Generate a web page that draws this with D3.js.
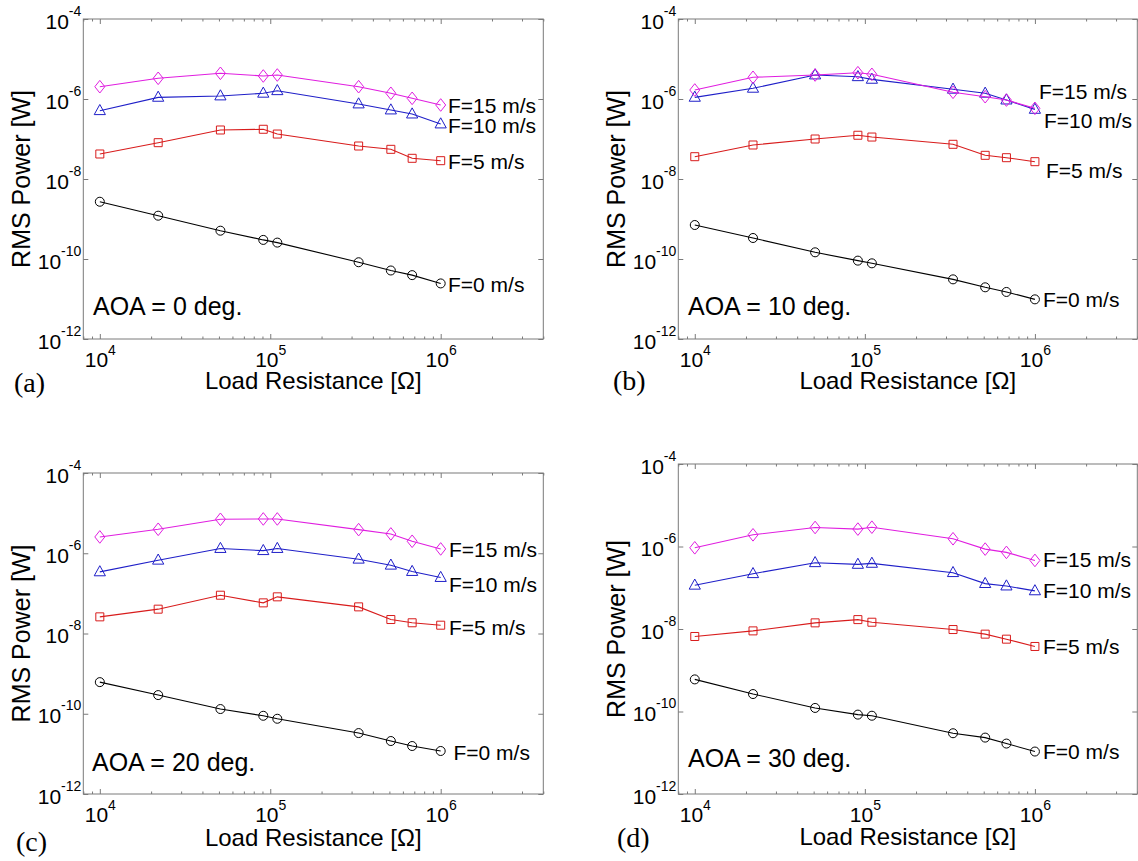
<!DOCTYPE html>
<html><head><meta charset="utf-8">
<script src="https://cdn.jsdelivr.net/npm/d3@7"></script>
<style>
body{margin:0;background:#fff;}
svg text{font-family:"Liberation Sans",Arial,sans-serif;fill:#000;}
</style></head><body>
<svg id="chart" width="1138" height="861"></svg>
<script>
// ---------- data ----------
const resistance = [1e4, 2.2e4, 5.1e4, 9.1e4, 1.1e5, 3.3e5, 5.1e5, 6.8e5, 1e6];
const xTickValues = [1e4, 1e5, 1e6];
const xTickExponents = ["4", "5", "6"];
const yTickValues = [1e-12, 1e-10, 1e-8, 1e-6, 1e-4];
const yTickExponents = ["-12", "-10", "-8", "-6", "-4"];
const seriesNames = ["F=0 m/s", "F=5 m/s", "F=10 m/s", "F=15 m/s"];
const panelTags = ["(a)", "(b)", "(c)", "(d)"];
const aoaTitles = ["AOA = 0 deg.", "AOA = 10 deg.", "AOA = 20 deg.", "AOA = 30 deg."];
const xAxisTitle = "Load Resistance [\u03A9]";
const yAxisTitle = "RMS Power [W]";

// AOA = 0 deg.
const aoa0_F0  = [2.7e-9, 1.21e-9, 5.1e-10, 3.0e-10, 2.57e-10, 8.3e-11, 5.16e-11, 3.95e-11, 2.45e-11];
const aoa0_F5  = [4.22e-8, 8.09e-8, 1.68e-7, 1.75e-7, 1.33e-7, 6.68e-8, 5.52e-8, 3.29e-8, 2.87e-8];
const aoa0_F10 = [5.1e-7, 1.1e-6, 1.19e-6, 1.39e-6, 1.61e-6, 7.5e-7, 5.3e-7, 4.2e-7, 2.37e-7];
const aoa0_F15 = [2.03e-6, 3.29e-6, 4.39e-6, 3.76e-6, 3.98e-6, 2.03e-6, 1.39e-6, 1.04e-6, 7.08e-7];
// AOA = 10 deg.
const aoa10_F0  = [7.08e-10, 3.35e-10, 1.47e-10, 9.1e-11, 7.8e-11, 3.1e-11, 1.96e-11, 1.5e-11, 9.8e-12];
const aoa10_F5  = [3.61e-8, 7.08e-8, 1.0e-7, 1.24e-7, 1.12e-7, 7.37e-8, 3.91e-8, 3.41e-8, 2.71e-8];
const aoa10_F10 = [1.1e-6, 1.85e-6, 3.98e-6, 3.6e-6, 3.1e-6, 1.75e-6, 1.39e-6, 9.4e-7, 5.5e-7];
const aoa10_F15 = [1.68e-6, 3.49e-6, 3.98e-6, 4.54e-6, 4.14e-6, 1.47e-6, 1.14e-6, 9.4e-7, 5.85e-7];
// AOA = 20 deg.
const aoa20_F0  = [6.14e-10, 2.92e-10, 1.31e-10, 8.9e-11, 7.5e-11, 3.3e-11, 2.09e-11, 1.57e-11, 1.18e-11];
const aoa20_F5  = [2.6e-8, 4.04e-8, 9.0e-8, 5.8e-8, 8.2e-8, 4.61e-8, 2.23e-8, 1.85e-8, 1.61e-8];
const aoa20_F10 = [3.43e-7, 6.7e-7, 1.31e-6, 1.16e-6, 1.31e-6, 7.1e-7, 5.03e-7, 3.5e-7, 2.48e-7];
const aoa20_F15 = [2.55e-6, 3.96e-6, 7.02e-6, 7.16e-6, 7.16e-6, 3.88e-6, 3.03e-6, 1.99e-6, 1.28e-6];
// AOA = 30 deg.
const aoa30_F0  = [6.0e-10, 2.65e-10, 1.22e-10, 8.4e-11, 7.9e-11, 2.97e-11, 2.33e-11, 1.67e-11, 1.07e-11];
const aoa30_F5  = [6.58e-9, 9.0e-9, 1.41e-8, 1.69e-8, 1.46e-8, 9.7e-9, 7.5e-9, 5.67e-9, 3.77e-9];
const aoa30_F10 = [1.15e-7, 2.19e-7, 4.04e-7, 3.68e-7, 3.9e-7, 2.32e-7, 1.26e-7, 1.1e-7, 8.4e-8];
const aoa30_F15 = [9.3e-7, 1.92e-6, 2.89e-6, 2.64e-6, 2.94e-6, 1.54e-6, 8.65e-7, 7.2e-7, 4.6e-7];

const panelSeries = [
  [aoa0_F0, aoa0_F5, aoa0_F10, aoa0_F15],
  [aoa10_F0, aoa10_F5, aoa10_F10, aoa10_F15],
  [aoa20_F0, aoa20_F5, aoa20_F10, aoa20_F15],
  [aoa30_F0, aoa30_F5, aoa30_F10, aoa30_F15]
];

// ---------- layout / style ----------
const seriesColors = ["#000000", "#d81c1c", "#1f1fc8", "#e01ee0"];
const seriesMarkers = ["circle", "square", "triangle", "diamond"];

const panels = [
  {left: 83.3, top: 19, width: 460, height: 320,
   labelPos: [[448, 284], [448, 161], [448, 125], [448, 105]],
   aoaPos: [93, 306.5], tagPos: [14, 392], xTitleY: 389},
  {left: 678.3, top: 19, width: 459, height: 320,
   labelPos: [[1043, 299], [1046, 170], [1044, 120], [1039, 91]],
   aoaPos: [688, 306.5], tagPos: [613, 390], xTitleY: 389},
  {left: 83.3, top: 473, width: 460, height: 321,
   labelPos: [[453.5, 752.8], [449, 627.5], [449, 584.2], [449, 549.2]],
   aoaPos: [92, 761.7], tagPos: [16, 851], xTitleY: 845.5},
  {left: 678.3, top: 464, width: 459, height: 330,
   labelPos: [[1043, 751.8], [1043, 646.8], [1043, 590.8], [1043, 559.8]],
   aoaPos: [688, 758.3], tagPos: [617, 847], xTitleY: 845}
];

const svg = d3.select("#chart");
const axisColor = "#7a7a7a";

function markerPath(type) {
  if (type === "circle") return d3.symbol(d3.symbolCircle, Math.PI * 4.5 * 4.5)();
  if (type === "square") return "M-4,-4H4V4H-4Z";
  if (type === "triangle") return "M0,-6.2L5.6,3.9L-5.6,3.9Z";
  return "M0,-6.3L5,0L0,6.3L-5,0Z";
}

const minorX = [];
for (let e = 3; e <= 6; e++) for (let m = 2; m <= 9; m++) {
  const v = m * Math.pow(10, e);
  if (v >= 8e3 && v <= 4e6) minorX.push(v);
}

panels.forEach((p, pi) => {
  const g = svg.append("g");
  const x = d3.scaleLog().domain([8e3, 4e6]).range([p.left, p.left + p.width]);
  const y = d3.scaleLog().domain([1e-12, 1e-4]).range([p.top + p.height, p.top]);
  const bottom = p.top + p.height, right = p.left + p.width;

  const styleAxis = sel => {
    sel.select(".domain").remove();
    sel.selectAll(".tick line").attr("stroke", axisColor);
  };
  g.append("g").attr("transform", `translate(0,${bottom})`)
    .call(d3.axisBottom(x).tickValues(minorX).tickSizeInner(-2.5).tickSizeOuter(0).tickFormat(""))
    .call(styleAxis);
  g.append("g").attr("transform", `translate(0,${p.top})`)
    .call(d3.axisTop(x).tickValues(minorX).tickSizeInner(-2.5).tickSizeOuter(0).tickFormat(""))
    .call(styleAxis);
  g.append("g").attr("transform", `translate(0,${p.top})`)
    .call(d3.axisTop(x).tickValues(xTickValues).tickSizeInner(-5).tickSizeOuter(0).tickFormat(""))
    .call(styleAxis);
  const xb = g.append("g").attr("transform", `translate(0,${bottom})`)
    .call(d3.axisBottom(x).tickValues(xTickValues).tickSizeInner(-5).tickSizeOuter(0).tickPadding(0))
    .call(styleAxis);
  xb.selectAll(".tick text").each(function(d, i) {
    const t = d3.select(this).text(null)
      .attr("y", 27.5).attr("dy", null).attr("text-anchor", "middle")
      .attr("font-size", 21).attr("fill", "#000");
    t.append("tspan").text("10");
    t.append("tspan").attr("font-size", 14).attr("dy", -12).text(xTickExponents[i]);
  });
  g.append("g").attr("transform", `translate(${right},0)`)
    .call(d3.axisRight(y).tickValues(yTickValues).tickSizeInner(-5).tickSizeOuter(0).tickFormat(""))
    .call(styleAxis);
  const yl = g.append("g").attr("transform", `translate(${p.left},0)`)
    .call(d3.axisLeft(y).tickValues(yTickValues).tickSizeInner(-5).tickSizeOuter(0).tickPadding(2))
    .call(styleAxis);
  yl.selectAll(".tick text").each(function(d, i) {
    const t = d3.select(this).text(null)
      .attr("x", -2).attr("dy", null).attr("y", 9).attr("text-anchor", "end")
      .attr("font-size", 21).attr("fill", "#000");
    t.append("tspan").text("10");
    t.append("tspan").attr("font-size", 14).attr("dy", -13).text(yTickExponents[i]);
  });

  g.append("rect").attr("x", p.left).attr("y", p.top).attr("width", p.width).attr("height", p.height)
    .attr("fill", "none").attr("stroke", axisColor).attr("stroke-width", 1);

  const line = d3.line().x(d => x(d[0])).y(d => y(d[1]));
  panelSeries[pi].forEach((vals, si) => {
    const pts = resistance.map((r, k) => [r, vals[k]]);
    g.append("path").datum(pts).attr("d", line)
      .attr("fill", "none").attr("stroke", seriesColors[si]).attr("stroke-width", 1.1);
    g.selectAll(null).data(pts).enter().append("path")
      .attr("transform", d => `translate(${x(d[0])},${y(d[1])})`)
      .attr("d", markerPath(seriesMarkers[si]))
      .attr("fill", "none").attr("stroke", seriesColors[si]).attr("stroke-width", 1);
    g.append("text").attr("x", p.labelPos[si][0]).attr("y", p.labelPos[si][1] + 7.5)
      .attr("font-size", 21).text(seriesNames[si]);
  });

  g.append("text").attr("x", p.aoaPos[0]).attr("y", p.aoaPos[1] + 8.8)
    .attr("font-size", 25).text(aoaTitles[pi]);
  g.append("text").attr("x", p.tagPos[0]).attr("y", p.tagPos[1])
    .attr("font-size", 28).style("font-family", "'Liberation Serif','Times New Roman',serif")
    .text(panelTags[pi]);
  g.append("text").attr("x", p.left + p.width / 2).attr("y", p.xTitleY)
    .attr("text-anchor", "middle").attr("font-size", 24).text(xAxisTitle);
  g.append("text")
    .attr("transform", `translate(${p.left - 62},${p.top + p.height / 2}) rotate(-90)`)
    .attr("text-anchor", "middle").attr("dominant-baseline", "central")
    .attr("font-size", 25).text(yAxisTitle);
});
</script>
</body></html>
